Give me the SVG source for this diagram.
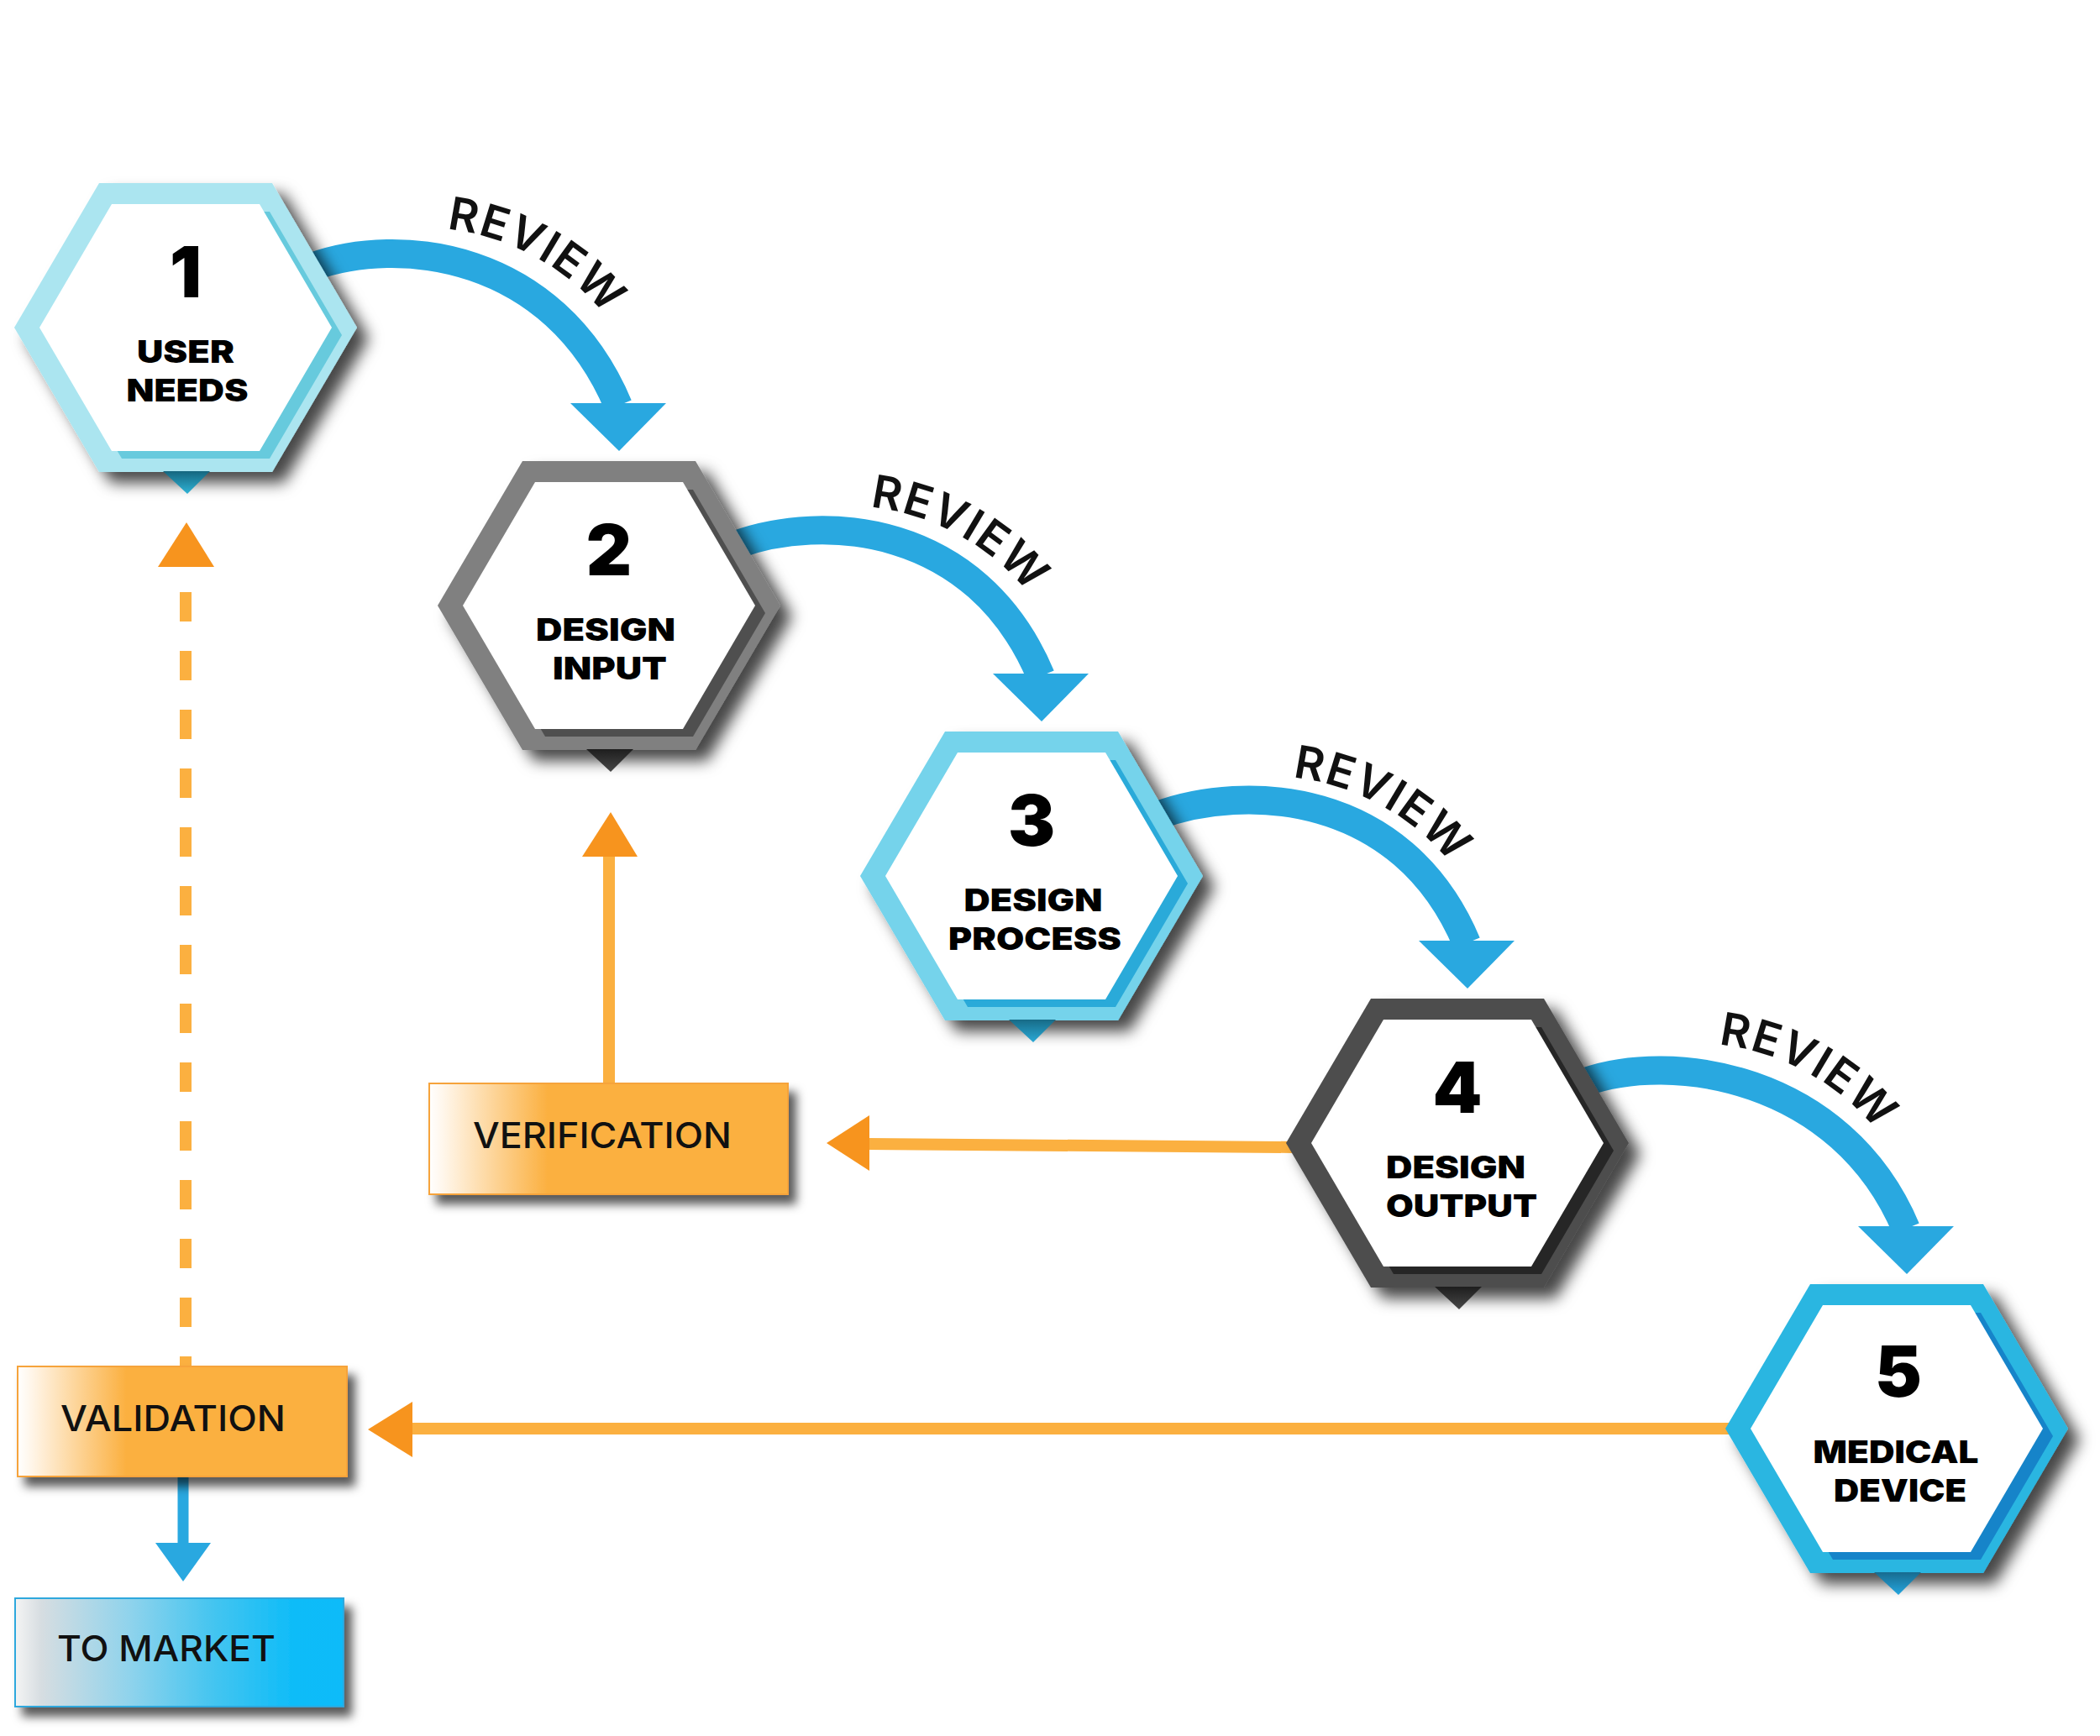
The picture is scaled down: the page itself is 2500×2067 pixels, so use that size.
<svg xmlns="http://www.w3.org/2000/svg" xmlns:xlink="http://www.w3.org/1999/xlink" width="2500" height="2067" viewBox="0 0 2500 2067">
<style>
.rev{font-family:Inter,'DejaVu Sans',sans-serif;font-weight:600;font-size:54px;letter-spacing:2px;fill:#111}
.num{font-family:Inter,'DejaVu Sans',sans-serif;font-weight:900;font-size:84px;fill:#000;text-anchor:middle}
.lab{font-family:Inter,'DejaVu Sans',sans-serif;font-weight:900;font-size:37px;fill:#000;text-anchor:middle}
.boxt{font-family:Inter,'DejaVu Sans',sans-serif;font-weight:500;font-size:42px;fill:#111}
.band{fill:none;stroke:#29A8E0;stroke-width:34}
.ahB{fill:#29A8E0}
.oline{stroke:#FBB040;stroke-width:14;fill:none}
.ahO{fill:#F7941E}
</style>
<defs>
<filter id="sh" x="-20%" y="-20%" width="150%" height="150%"><feDropShadow dx="14" dy="13" stdDeviation="9" flood-color="#000" flood-opacity="0.72"/></filter>
<filter id="shb" x="-10%" y="-20%" width="130%" height="150%"><feDropShadow dx="9" dy="11" stdDeviation="6" flood-color="#000" flood-opacity="0.65"/></filter>
<polygon id="ho" points="-103,-172 103,-172 204,0 103,172 -103,172 -204,0"/>
<polygon id="hi" points="-88,-147 88,-147 174,0 88,147 -88,147 -174,0"/>
<polygon id="pt" points="-27,171 29,171 2,198"/>
<linearGradient id="p1" x1="0" y1="0" x2="0" y2="1"><stop offset="0" stop-color="#15667f"/><stop offset="1" stop-color="#2fb3d6"/></linearGradient>
<linearGradient id="p2" x1="0" y1="0" x2="0" y2="1"><stop offset="0" stop-color="#1e1e1e"/><stop offset="1" stop-color="#474747"/></linearGradient>
<linearGradient id="p3" x1="0" y1="0" x2="0" y2="1"><stop offset="0" stop-color="#176b87"/><stop offset="1" stop-color="#2aa9d6"/></linearGradient>
<linearGradient id="p5" x1="0" y1="0" x2="0" y2="1"><stop offset="0" stop-color="#176b8f"/><stop offset="1" stop-color="#25a6df"/></linearGradient>
<linearGradient id="gO" x1="0" y1="0" x2="1" y2="0"><stop offset="0" stop-color="#ffffff"/><stop offset="0.04" stop-color="#fff6ea"/><stop offset="0.33" stop-color="#FBB040"/><stop offset="1" stop-color="#FBB040"/></linearGradient>
<linearGradient id="gB" x1="0" y1="0" x2="1" y2="0"><stop offset="0" stop-color="#f4f4f4"/><stop offset="0.08" stop-color="#d6dde1"/><stop offset="0.35" stop-color="#8fd3ec"/><stop offset="0.6" stop-color="#45c5f0"/><stop offset="0.85" stop-color="#0ebcf8"/><stop offset="1" stop-color="#07bbf9"/></linearGradient>
</defs>
<rect width="2500" height="2067" fill="#ffffff"/>

<g id="connectors">
  <path class="band" d="M371 318 C474 280 659 300 736 483"/>
  <polygon class="ahB" points="679,480 793,480 737,537"/>
  <path class="band" d="M875 649 C978 611 1162 622 1239 805"/>
  <polygon class="ahB" points="1182,802 1296,802 1240,859"/>
  <path class="band" d="M1378 971 C1481 933 1669 940 1746 1123"/>
  <polygon class="ahB" points="1689,1120 1803,1120 1747,1177"/>
  <path class="band" d="M1885 1289 C1988 1251 2192 1280 2269 1463"/>
  <polygon class="ahB" points="2212,1460 2326,1460 2270,1517"/>

  <path class="oline" d="M221 705 V1630" stroke-dasharray="35 35"/>
  <polygon class="ahO" points="188,675 255,675 222,622"/>
  <path class="oline" d="M725 1292 V1018"/>
  <polygon class="ahO" points="693,1020 759,1020 727,967"/>
  <path class="oline" d="M1540 1366 L1033 1362"/>
  <polygon class="ahO" points="1035,1328 1035,1394 984,1361"/>
  <path class="oline" d="M2070 1701 H489"/>
  <polygon class="ahO" points="491,1669 491,1735 438,1702"/>
  <path d="M218 1757 V1840" stroke="#29A8E0" stroke-width="13" fill="none"/>
  <polygon class="ahB" points="185,1837 251,1837 218,1883"/>

  <path id="tp1" d="M531.6 272.7 A283 283 0 0 1 779.7 504.9" fill="none"/>
  <path id="tp2" d="M1035.6 603.7 A283 283 0 0 1 1283.7 835.9" fill="none"/>
  <path id="tp3" d="M1538.6 925.7 A283 283 0 0 1 1786.7 1157.9" fill="none"/>
  <path id="tp4" d="M2045.6 1243.7 A283 283 0 0 1 2293.7 1475.9" fill="none"/>
  <text class="rev"><textPath href="#tp1" xlink:href="#tp1">REVIEW</textPath></text>
  <text class="rev"><textPath href="#tp2" xlink:href="#tp2">REVIEW</textPath></text>
  <text class="rev"><textPath href="#tp3" xlink:href="#tp3">REVIEW</textPath></text>
  <text class="rev"><textPath href="#tp4" xlink:href="#tp4">REVIEW</textPath></text>
</g>

<g id="node1" transform="translate(221,390)">
  <use href="#ho" xlink:href="#ho" fill="#ABE5F0" filter="url(#sh)"/>
  <use href="#hi" xlink:href="#hi" fill="#67CADD" transform="translate(12,9)"/>
  <use href="#hi" xlink:href="#hi" fill="#ffffff"/>
  <use href="#pt" xlink:href="#pt" fill="url(#p1)"/>
  <text class="num" x="0" y="-36">1</text>
  <text class="lab" x="0" y="42" textLength="116" lengthAdjust="spacingAndGlyphs">USER</text>
  <text class="lab" x="2" y="88" textLength="145" lengthAdjust="spacingAndGlyphs">NEEDS</text>
</g>

<g id="node2" transform="translate(725,721)">
  <use href="#ho" xlink:href="#ho" fill="#808080" filter="url(#sh)"/>
  <use href="#hi" xlink:href="#hi" fill="#4F4F4F" transform="translate(12,9)"/>
  <use href="#hi" xlink:href="#hi" fill="#ffffff"/>
  <use href="#pt" xlink:href="#pt" fill="url(#p2)"/>
  <text class="num" x="0" y="-36">2</text>
  <text class="lab" x="-4" y="42" textLength="166" lengthAdjust="spacingAndGlyphs">DESIGN</text>
  <text class="lab" x="1" y="88" textLength="136" lengthAdjust="spacingAndGlyphs">INPUT</text>
</g>

<g id="node3" transform="translate(1228,1043)">
  <use href="#ho" xlink:href="#ho" fill="#74D3EB" filter="url(#sh)"/>
  <use href="#hi" xlink:href="#hi" fill="#2AAAD9" transform="translate(12,9)"/>
  <use href="#hi" xlink:href="#hi" fill="#ffffff"/>
  <use href="#pt" xlink:href="#pt" fill="url(#p3)"/>
  <text class="num" x="0" y="-36">3</text>
  <text class="lab" x="2" y="42" textLength="165" lengthAdjust="spacingAndGlyphs">DESIGN</text>
  <text class="lab" x="4" y="88" textLength="206" lengthAdjust="spacingAndGlyphs">PROCESS</text>
</g>

<g id="node4" transform="translate(1735,1361)">
  <use href="#ho" xlink:href="#ho" fill="#4D4D4D" filter="url(#sh)"/>
  <use href="#hi" xlink:href="#hi" fill="#262626" transform="translate(12,9)"/>
  <use href="#hi" xlink:href="#hi" fill="#ffffff"/>
  <use href="#pt" xlink:href="#pt" fill="url(#p2)"/>
  <text class="num" x="0" y="-36">4</text>
  <text class="lab" x="-2" y="42" textLength="166" lengthAdjust="spacingAndGlyphs">DESIGN</text>
  <text class="lab" x="5" y="88" textLength="180" lengthAdjust="spacingAndGlyphs">OUTPUT</text>
</g>

<g id="node5" transform="translate(2258,1701)">
  <use href="#ho" xlink:href="#ho" fill="#29B6E1" filter="url(#sh)"/>
  <use href="#hi" xlink:href="#hi" fill="#1684C9" transform="translate(12,9)"/>
  <use href="#hi" xlink:href="#hi" fill="#ffffff"/>
  <use href="#pt" xlink:href="#pt" fill="url(#p5)"/>
  <text class="num" x="2" y="-38">5</text>
  <text class="lab" x="-1" y="41" textLength="197" lengthAdjust="spacingAndGlyphs">MEDICAL</text>
  <text class="lab" x="4" y="87" textLength="158" lengthAdjust="spacingAndGlyphs">DEVICE</text>
</g>

<g id="verification">
  <rect x="511" y="1290" width="427" height="132" fill="url(#gO)" stroke="#F6A33A" stroke-width="2" filter="url(#shb)"/>
  <text class="boxt" x="563" y="1367" textLength="308" lengthAdjust="spacingAndGlyphs">VERIFICATION</text>
</g>

<g id="validation">
  <rect x="21" y="1627" width="392" height="131" fill="url(#gO)" stroke="#F6A33A" stroke-width="2" filter="url(#shb)"/>
  <text class="boxt" x="72" y="1704" textLength="268" lengthAdjust="spacingAndGlyphs">VALIDATION</text>
</g>

<g id="to-market">
  <rect x="18" y="1903" width="391" height="129" fill="url(#gB)" stroke="#2FA8DD" stroke-width="2" filter="url(#shb)"/>
  <text class="boxt" x="68" y="1978" textLength="260" lengthAdjust="spacingAndGlyphs">TO MARKET</text>
</g>
</svg>
